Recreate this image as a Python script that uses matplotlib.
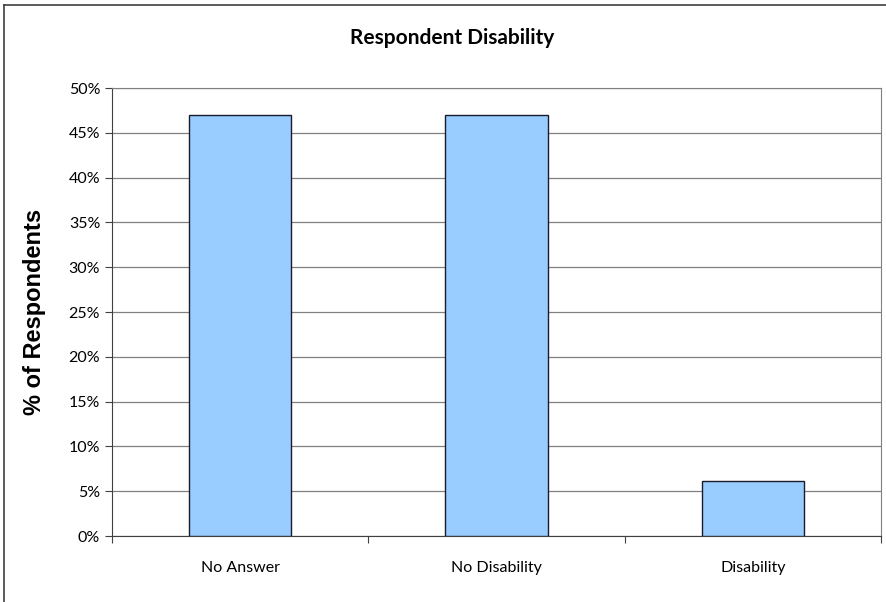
import matplotlib.pyplot as plt
from matplotlib.lines import Line2D
from matplotlib.ticker import MultipleLocator, FuncFormatter

categories = ["No Answer", "No Disability", "Disability"]
values = [46.95, 46.95, 6.1]

fig = plt.figure(figsize=(8.86, 6.02), dpi=100)
ax = fig.add_axes([112/886, 66/602, 769/886, 448/602])

x = list(range(len(categories)))
ax.bar(x, values, width=0.4, color="#99ccff", edgecolor="#1a1a2e", linewidth=1.0, zorder=3)

ax.set_xlim(-0.5, 2.5)
ax.set_ylim(0, 50)
ax.yaxis.set_major_locator(MultipleLocator(5))
ax.yaxis.set_major_formatter(FuncFormatter(lambda v, p: f"{v:.0f}%"))
ax.grid(axis="y", color="#808080", linewidth=0.9, zorder=0)

ax.set_xticks([-0.5, 0.5, 1.5, 2.5])
ax.set_xticklabels([])
ax.set_xticks(x, minor=True)
ax.set_xticklabels(categories, minor=True, fontsize=11.5, family="Lato")
ax.tick_params(axis="x", which="minor", length=0, pad=18)
ax.tick_params(axis="x", which="major", direction="out", length=5, color="#404040")
ax.tick_params(axis="y", direction="out", length=5, labelsize=11.5, color="#404040")
for lab in ax.get_yticklabels():
    lab.set_family("Lato")

for s in ["top", "right"]:
    ax.spines[s].set_color("#808080")
ax.spines["left"].set_color("#404040")
ax.spines["bottom"].set_color("#404040")

ax.set_ylabel("% of Respondents", fontsize=17, fontweight="bold", family="Liberation Sans", labelpad=16)
fig.text(452/886, 1 - 38/602, "Respondent Disability", ha="center", va="center",
         fontsize=15, fontweight="bold", family="Lato")

# outer chart frame (top and left edges visible)
fig.add_artist(Line2D([4/886, 1], [1 - 5/602, 1 - 5/602], color="#404040", linewidth=1.2))
fig.add_artist(Line2D([4/886, 4/886], [0, 1 - 5/602], color="#404040", linewidth=1.2))

fig.savefig("out.png", dpi=100)
